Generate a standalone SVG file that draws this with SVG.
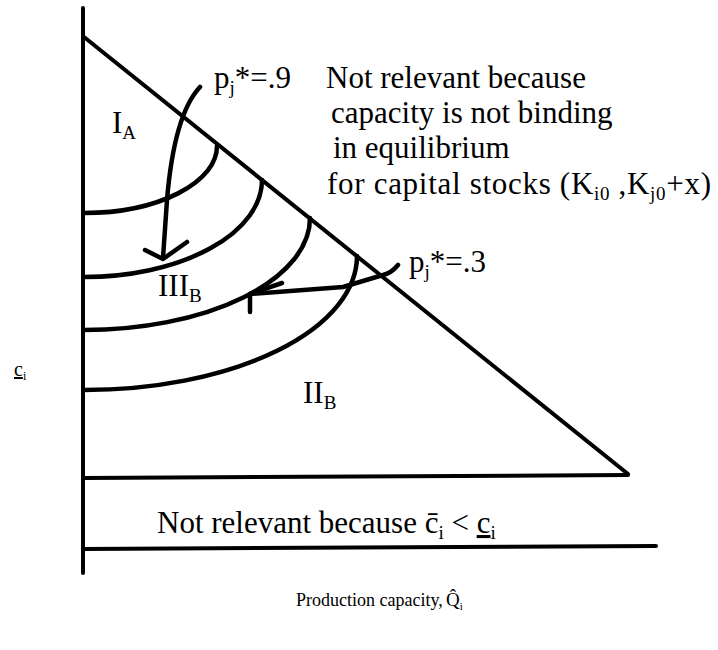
<svg xmlns="http://www.w3.org/2000/svg" width="718" height="650" viewBox="0 0 718 650">
<style>
.ln{fill:none;stroke:#000;stroke-width:4;stroke-linecap:round;stroke-linejoin:round}
.cv{fill:none;stroke:#000;stroke-width:4.5;stroke-linecap:round;stroke-linejoin:round}
.t{font-family:"Liberation Serif","Times New Roman",serif;fill:#000}
.big{font-size:31px}
.sub{font-size:19px}
</style>
<rect width="718" height="650" fill="#fff"/>
<g id="axes">
<line class="ln" x1="83" y1="8" x2="83" y2="573"/>
<line class="ln" x1="84" y1="37" x2="628" y2="474"/>
<line class="ln" x1="83" y1="478" x2="628" y2="475"/>
<line class="ln" x1="83" y1="549" x2="656" y2="546"/>
</g>
<g id="curves">
<path class="cv" d="M84,213 A133,67 0 0 0 217,146"/>
<path class="cv" d="M84,277 A178,97 0 0 0 262,180"/>
<path class="cv" d="M84,330 A226,112 0 0 0 310,218"/>
<path class="cv" d="M84,390 A273,134 0 0 0 357,256"/>
</g>
<g id="connectors">
<path class="cv" d="M200,87 C184,104 172,140 167,200 L163,258"/>
<path class="cv" d="M145,250 L163,259 L187,242"/>
<path class="cv" d="M398,265 C393,271 388,274 383,275 L343,287 L250,294"/>
<path class="cv" d="M282,283 L250,294 L250,312"/>
</g>
<g id="label-p9">
<text class="t big" x="214" y="88">p<tspan class="sub" dy="6">j</tspan><tspan dy="-6">*=.9</tspan></text>
</g>
<g id="label-notrel-top">
<text class="t big" x="326" y="88">Not relevant because</text>
<text class="t big" x="331" y="123">capacity is not binding</text>
<text class="t big" x="333" y="158">in equilibrium</text>
<text class="t big" x="327" y="194" textLength="384" lengthAdjust="spacing">for capital stocks (K<tspan class="sub" dy="6">i0</tspan><tspan dy="-6"> ,K</tspan><tspan class="sub" dy="6">j0</tspan><tspan dy="-6">+x)</tspan></text>
</g>
<g id="label-IA">
<text class="t big" x="112" y="133">I<tspan class="sub" dy="6">A</tspan></text>
</g>
<g id="label-IIIB">
<text class="t big" x="158" y="296">III<tspan class="sub" dy="6">B</tspan></text>
</g>
<g id="label-p3">
<text class="t big" x="409" y="272">p<tspan class="sub" dy="6">j</tspan><tspan dy="-6">*=.3</tspan></text>
</g>
<g id="label-IIB">
<text class="t big" x="303" y="403">II<tspan class="sub" dy="6">B</tspan></text>
</g>
<g id="label-ci-axis">
<text class="t" font-size="20" x="14" y="376"><tspan text-decoration="underline">c</tspan><tspan font-size="12" dy="4">i</tspan></text>
</g>
<g id="label-notrel-bottom">
<text class="t big" x="157" y="533">Not relevant because c̄<tspan class="sub" dy="6">i</tspan><tspan dy="-6"> &lt; </tspan><tspan text-decoration="underline">c</tspan><tspan class="sub" dy="6">i</tspan></text>
</g>
<g id="label-xaxis">
<text class="t" font-size="18" x="296" y="606">Production capacity,</text>
<text class="t" font-size="19" x="446" y="606">Q̂<tspan font-size="11" dy="4">i</tspan></text>
</g>
</svg>
